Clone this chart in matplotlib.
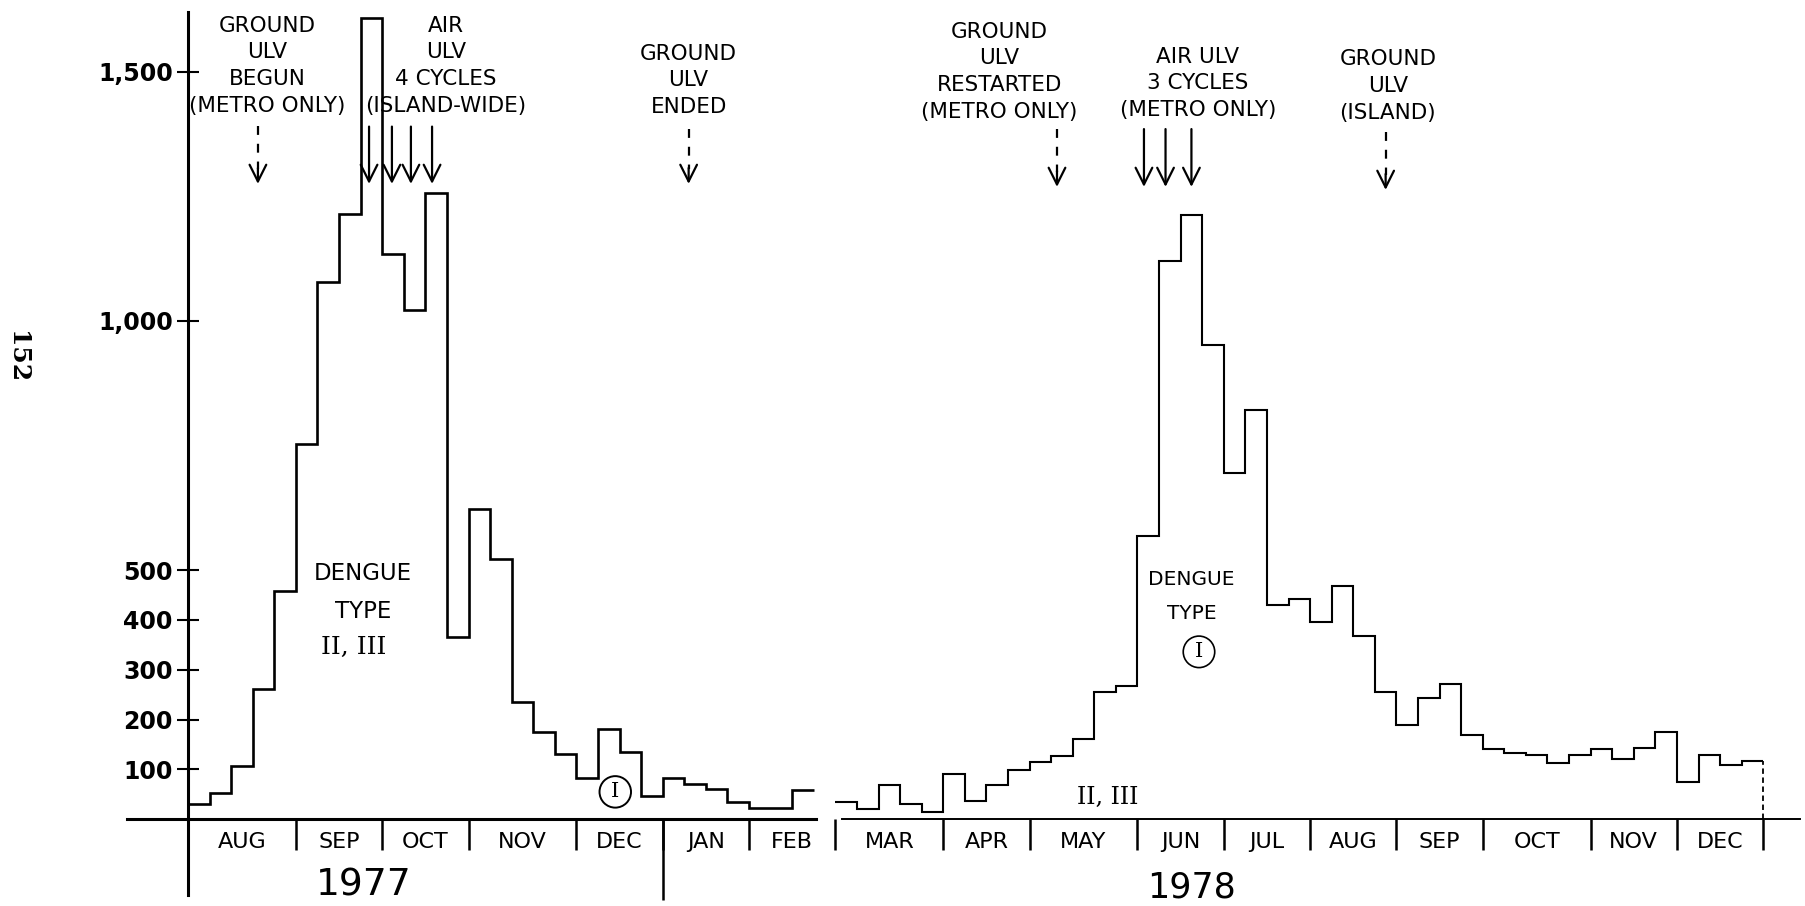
import matplotlib
matplotlib.use('Agg')
import matplotlib.pyplot as plt

# weekly reported cases
cases_1977 = [30, 52, 106, 261, 459, 754, 1079, 1214, 1607, 1134, 1022, 1257,
              365, 623, 522, 236, 175, 132, 83, 181, 136, 47, 82, 71, 61, 35,
              22, 22, 59]
cases_1978 = [35, 21, 68, 31, 14, 90, 36, 68, 98, 115, 126, 161, 255, 267, 568,
              1121, 1212, 952, 695, 822, 429, 443, 396, 469, 367, 255, 190, 243,
              272, 170, 142, 133, 128, 113, 128, 142, 121, 143, 175, 75, 128,
              108, 116]
edges_1977 = list(range(0, len(cases_1977) + 1))
edges_1978 = list(range(30, 30 + len(cases_1978) + 1))

months_1977 = ['AUG', 'SEP', 'OCT', 'NOV', 'DEC', 'JAN', 'FEB']
month_edges_1977 = [0, 5, 9, 13, 18, 22, 26, 30]
months_1978 = ['MAR', 'APR', 'MAY', 'JUN', 'JUL', 'AUG', 'SEP', 'OCT', 'NOV', 'DEC']
month_edges_1978 = [30, 35, 39, 44, 48, 52, 56, 60, 65, 69, 73]

ytick_vals = [100, 200, 300, 400, 500, 1000, 1500]
ytick_labels = ['100', '200', '300', '400', '500', '1,000', '1,500']

fig = plt.figure(figsize=(18.06, 9.06), dpi=100)
fig.patch.set_facecolor('white')
ax = fig.add_axes([188 / 1806, 0, 1618 / 1806, 1])
ax.set_xlim(0, 74.98)
ax.set_ylim(-174, 1644)

for s in ['top', 'right', 'bottom']:
    ax.spines[s].set_visible(False)
ax.spines['left'].set_bounds(-152, 1620)
ax.spines['left'].set_linewidth(2.2)
ax.set_xticks([])
ax.set_yticks(ytick_vals)
ax.set_yticklabels(ytick_labels, fontsize=17, fontweight='bold')
ax.tick_params(axis='y', direction='inout', length=16, width=1.5, pad=3)

# the two epidemic curves
ax.stairs(cases_1977, edges_1977, baseline=None, color='black', lw=1.9)
ax.stairs(cases_1978, edges_1978, baseline=None, color='black', lw=1.5)
ax.vlines(edges_1978[-1], 0, cases_1978[-1], colors='black', lw=1.3,
          linestyles=(0, (3, 2)))

# baselines
ax.plot([-2.83, 29.1], [0, 0], color='black', lw=2.2, clip_on=False)
ax.plot([30.3, 74.7], [0, 0], color='black', lw=1.4, clip_on=False)

# month separators and labels
for edges, names in [(month_edges_1977, months_1977), (month_edges_1978, months_1978)]:
    ax.vlines(edges[1:], -62, 0, colors='black', lw=1.8)
    for i, m in enumerate(names):
        ax.text((edges[i] + edges[i + 1]) / 2, -46, m, ha='center', va='center',
                fontsize=16)
ax.vlines(22, -162, 0, colors='black', lw=1.8)

ax.text(8.16, -132, '1977', ha='center', va='center', fontsize=27)
ax.text(46.5, -136, '1978', ha='center', va='center', fontsize=25)

# control measures
notes = [
    (3.66, 1512, 'GROUND\nULV\nBEGUN\n(METRO ONLY)'),
    (11.96, 1512, 'AIR\nULV\n4 CYCLES\n(ISLAND-WIDE)'),
    (23.2, 1483, 'GROUND\nULV\nENDED'),
    (37.6, 1500, 'GROUND\nULV\nRESTARTED\n(METRO ONLY)'),
    (46.8, 1477, 'AIR ULV\n3 CYCLES\n(METRO ONLY)'),
    (55.6, 1471, 'GROUND\nULV\n(ISLAND)'),
]
for x, y, t in notes:
    ax.text(x, y, t, ha='center', va='center', fontsize=15.5, linespacing=1.42)

head = dict(arrowstyle='->,head_length=0.6,head_width=0.3', color='black',
            lw=1.6, mutation_scale=20, shrinkA=0, shrinkB=0)

solid_arrows = [(8.39, 1390, 1275), (9.45, 1390, 1275), (10.33, 1390, 1275),
                (11.31, 1390, 1275), (44.3, 1385, 1269), (45.3, 1385, 1269),
                (46.5, 1385, 1269)]
for x, y0, y1 in solid_arrows:
    ax.annotate('', xy=(x, y1), xytext=(x, y0), arrowprops=head)

dashed_arrows = [(3.24, 1392, 1275), (23.2, 1385, 1275), (40.27, 1385, 1269),
                 (55.5, 1379, 1263)]
for x, y0, y1 in dashed_arrows:
    ax.plot([x, x], [y0, y1 + 30], color='black', lw=1.6, linestyle=(0, (4, 4)))
    ax.annotate('', xy=(x, y1), xytext=(x, y1 + 32), arrowprops=head)

# serotype labels
ax.text(8.11, 455, 'DENGUE\nTYPE', ha='center', va='center', fontsize=16.5,
        linespacing=1.85)
ax.text(7.7, 344, 'II, III', ha='center', va='center', fontsize=18,
        family='DejaVu Serif')
ax.text(19.8, 55, 'I', ha='center', va='center', fontsize=15, family='DejaVu Serif',
        bbox=dict(boxstyle='circle,pad=0.3', fc='white', ec='black', lw=1.4))

ax.text(46.5, 447, 'DENGUE\nTYPE', ha='center', va='center', fontsize=14.5,
        linespacing=1.95)
ax.text(46.85, 336, 'I', ha='center', va='center', fontsize=15, family='DejaVu Serif',
        bbox=dict(boxstyle='circle,pad=0.3', fc='white', ec='black', lw=1.2))
ax.text(42.6, 43, 'II, III', ha='center', va='center', fontsize=17,
        family='DejaVu Serif')

# page number
fig.text(17 / 1806, 1 - 357 / 906, '152', rotation=-90, ha='center', va='center',
         fontsize=18, family='DejaVu Serif', fontweight='bold')

fig.savefig('out.png', dpi=100, facecolor='white')
